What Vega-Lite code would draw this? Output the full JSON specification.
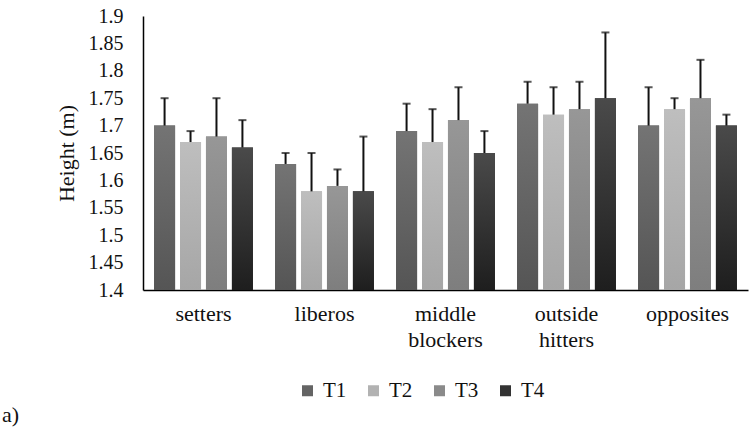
{
  "$schema": "https://vega.github.io/schema/vega-lite/v6.json",
  "width": 605,
  "height": 274,
  "autosize": {"type": "none"},
  "padding": {"left": 143, "top": 16, "right": 6, "bottom": 146},
  "background": "white",
  "title": {"text": "a)", "orient": "bottom", "anchor": "start", "frame": "group", "font": "Liberation Serif", "fontSize": 22, "fontWeight": "normal", "color": "#111", "dx": -141, "offset": 4},
  "data": {"values": [
    {"position": "setters", "series": "T1", "mean": 1.70, "upper": 1.75},
    {"position": "setters", "series": "T2", "mean": 1.67, "upper": 1.69},
    {"position": "setters", "series": "T3", "mean": 1.68, "upper": 1.75},
    {"position": "setters", "series": "T4", "mean": 1.66, "upper": 1.71},
    {"position": "liberos", "series": "T1", "mean": 1.63, "upper": 1.65},
    {"position": "liberos", "series": "T2", "mean": 1.58, "upper": 1.65},
    {"position": "liberos", "series": "T3", "mean": 1.59, "upper": 1.62},
    {"position": "liberos", "series": "T4", "mean": 1.58, "upper": 1.68},
    {"position": "middle blockers", "series": "T1", "mean": 1.69, "upper": 1.74},
    {"position": "middle blockers", "series": "T2", "mean": 1.67, "upper": 1.73},
    {"position": "middle blockers", "series": "T3", "mean": 1.71, "upper": 1.77},
    {"position": "middle blockers", "series": "T4", "mean": 1.65, "upper": 1.69},
    {"position": "outside hitters", "series": "T1", "mean": 1.74, "upper": 1.78},
    {"position": "outside hitters", "series": "T2", "mean": 1.72, "upper": 1.77},
    {"position": "outside hitters", "series": "T3", "mean": 1.73, "upper": 1.78},
    {"position": "outside hitters", "series": "T4", "mean": 1.75, "upper": 1.87},
    {"position": "opposites", "series": "T1", "mean": 1.70, "upper": 1.77},
    {"position": "opposites", "series": "T2", "mean": 1.73, "upper": 1.75},
    {"position": "opposites", "series": "T3", "mean": 1.75, "upper": 1.82},
    {"position": "opposites", "series": "T4", "mean": 1.70, "upper": 1.72}
  ]},
  "encoding": {
    "x": {"field": "position", "type": "nominal", "sort": null,
      "scale": {"paddingInner": 0.14, "paddingOuter": 0.07},
      "axis": {"title": null, "labelAngle": 0, "ticks": false, "domainColor": "#000", "domainWidth": 1.5,
        "labelExpr": "split(datum.label, ' ')", "labelFont": "Liberation Serif", "labelFontSize": 22,
        "labelColor": "#111", "labelPadding": 13, "labelLineHeight": 26, "labelBaseline": "top"}},
    "xOffset": {"field": "series", "type": "nominal", "scale": {"paddingInner": 0.19, "paddingOuter": 0.1}},
    "y": {"field": "mean", "type": "quantitative",
      "scale": {"domain": [1.4, 1.9], "zero": false, "nice": false},
      "axis": {"title": "Height (m)", "titleFont": "Liberation Serif", "titleFontSize": 22, "titleFontWeight": "normal", "titleColor": "#111", "titlePadding": 10,
        "values": [1.4, 1.45, 1.5, 1.55, 1.6, 1.65, 1.7, 1.75, 1.8, 1.85, 1.9], "format": "~g",
        "grid": false, "ticks": false, "domainColor": "#000", "domainWidth": 1.5,
        "labelFont": "Liberation Serif", "labelFontSize": 20, "labelColor": "#111", "labelPadding": 20}}
  },
  "layer": [
    {
      "mark": {"type": "bar"},
      "encoding": {
        "y2": {"datum": 1.4},
        "color": {"field": "series", "type": "nominal",
          "scale": {"domain": ["T1", "T2", "T3", "T4"], "range": ["#646464", "#b2b2b2", "#8a8a8a", "#333333"]},
          "legend": {"title": null, "orient": "none", "legendX": 154, "legendY": 364, "direction": "horizontal", "symbolType": "square", "symbolSize": 121,
            "symbolStrokeWidth": 0, "labelFont": "Liberation Serif", "labelFontSize": 21, "labelColor": "#111",
            "columnPadding": 16, "labelOffset": 5, "padding": 0}}
      }
    },
    {
      "transform": [{"filter": "datum.series == 'T1'"}],
      "mark": {"type": "bar", "color": {"gradient": "linear", "x1": 0, "y1": 0, "x2": 0, "y2": 1, "stops": [{"offset": 0, "color": "#747474"}, {"offset": 1, "color": "#555555"}]}},
      "encoding": {"y2": {"datum": 1.4}}
    },
    {
      "transform": [{"filter": "datum.series == 'T2'"}],
      "mark": {"type": "bar", "color": {"gradient": "linear", "x1": 0, "y1": 0, "x2": 0, "y2": 1, "stops": [{"offset": 0, "color": "#bebebe"}, {"offset": 1, "color": "#a6a6a6"}]}},
      "encoding": {"y2": {"datum": 1.4}}
    },
    {
      "transform": [{"filter": "datum.series == 'T3'"}],
      "mark": {"type": "bar", "color": {"gradient": "linear", "x1": 0, "y1": 0, "x2": 0, "y2": 1, "stops": [{"offset": 0, "color": "#979797"}, {"offset": 1, "color": "#7e7e7e"}]}},
      "encoding": {"y2": {"datum": 1.4}}
    },
    {
      "transform": [{"filter": "datum.series == 'T4'"}],
      "mark": {"type": "bar", "color": {"gradient": "linear", "x1": 0, "y1": 0, "x2": 0, "y2": 1, "stops": [{"offset": 0, "color": "#4a4a4a"}, {"offset": 1, "color": "#1e1e1e"}]}},
      "encoding": {"y2": {"datum": 1.4}}
    },
    {
      "mark": {"type": "rule", "color": "#111", "strokeWidth": 2},
      "encoding": {"y2": {"field": "upper"}}
    },
    {
      "mark": {"type": "tick", "color": "#111", "thickness": 2, "size": 8, "orient": "horizontal"},
      "encoding": {"y": {"field": "upper", "type": "quantitative"}}
    }
  ],
  "config": {"view": {"stroke": null}}
}
